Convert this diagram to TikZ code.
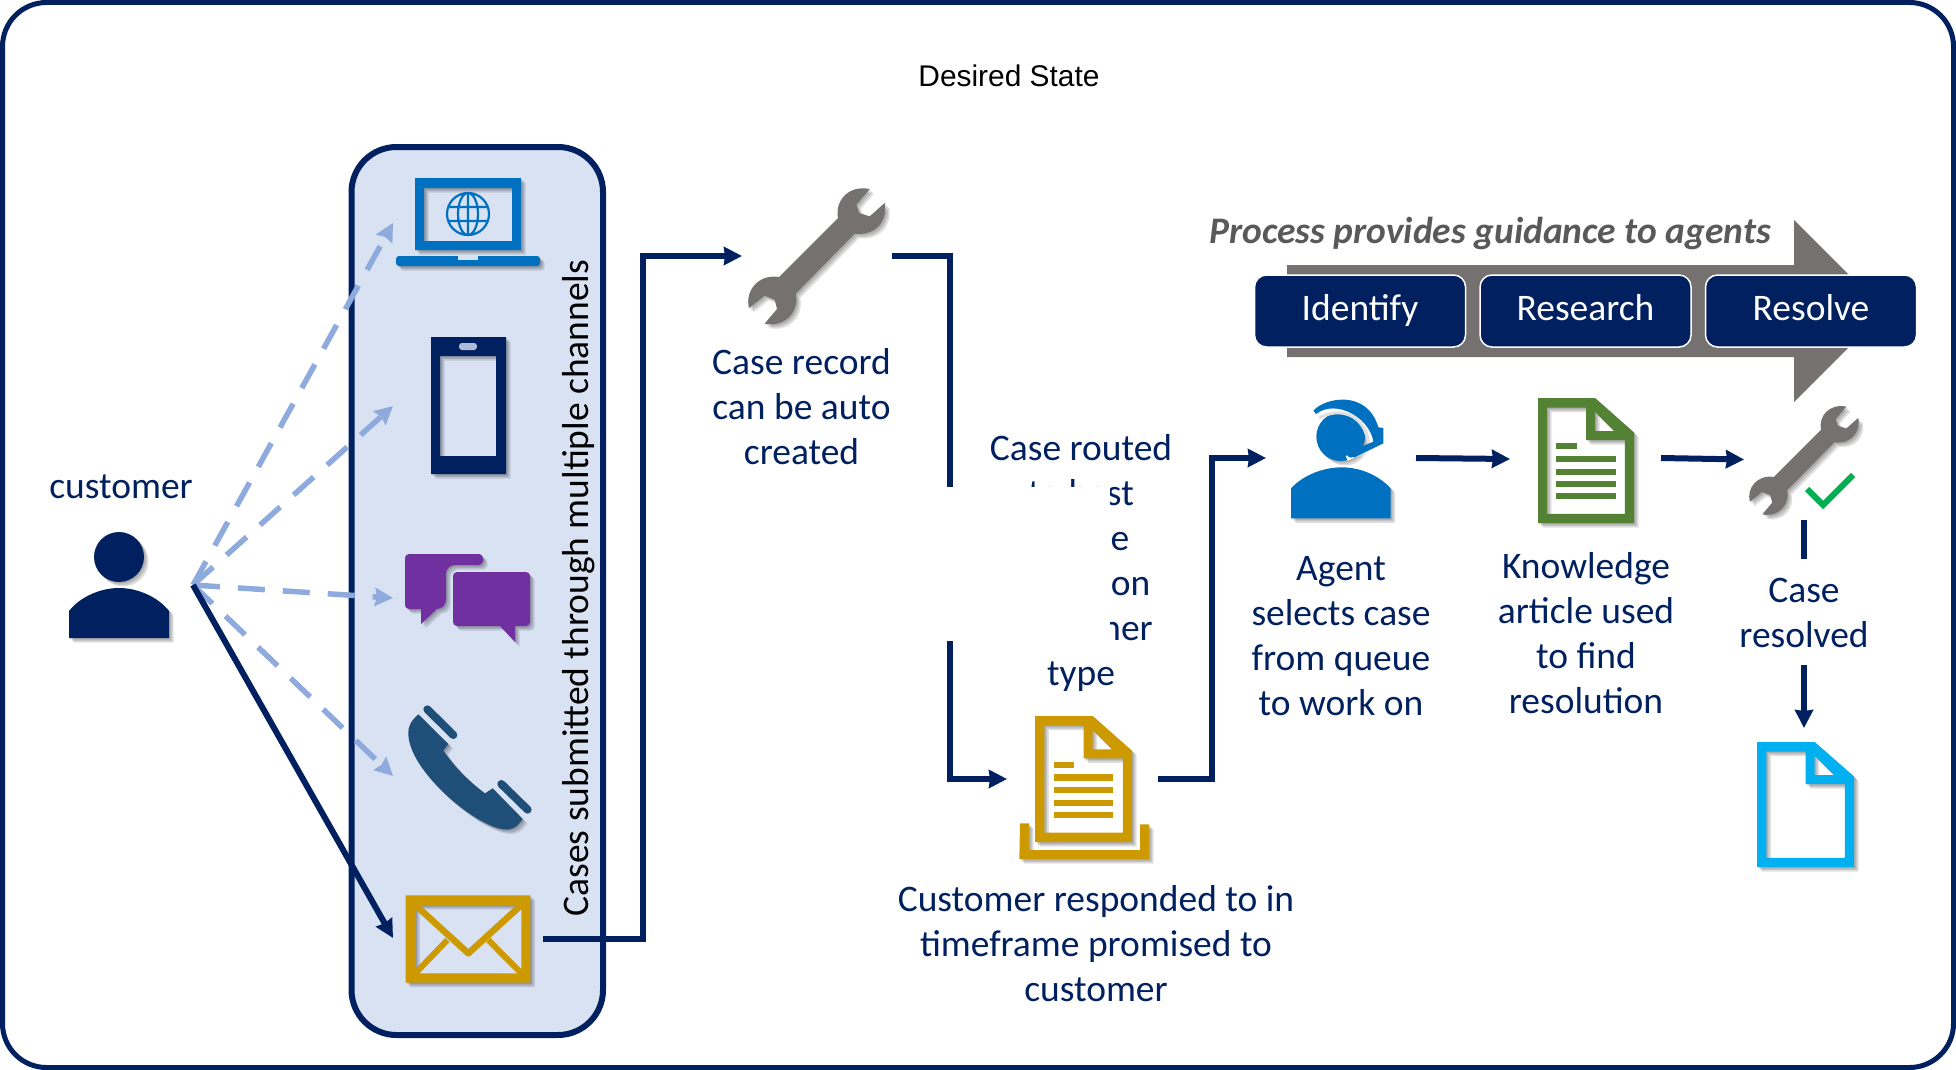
\documentclass[tikz,border=0pt]{standalone}
\usepackage{fontspec}
\setmainfont{Carlito}
\newfontfamily\titlefont{Liberation Sans}
\usetikzlibrary{arrows.meta, shadows}

\definecolor{navy}{HTML}{002060}
\definecolor{panelblue}{HTML}{D9E2F3}
\definecolor{dashblue}{HTML}{8FAADC}
\definecolor{iconblue}{HTML}{0070C0}
\definecolor{iconpurple}{HTML}{7030A0}
\definecolor{phoneblue}{HTML}{1F4E79}
\definecolor{icongold}{HTML}{CC9900}
\definecolor{icongreen}{HTML}{548235}
\definecolor{iconcyan}{HTML}{00B0F0}
\definecolor{icongrey}{HTML}{767171}
\definecolor{checkgreen}{HTML}{00B050}

% document icon, x y width height colour
\newcommand{\docicon}[5]{
  \begin{scope}[shift={(#1,#2)}, x=#3pt, y=-#4pt]
    \fill[#5, softshadow, even odd rule] (0,0) -- (0.595,0) -- (1,0.276) -- (1,1) -- (0,1) -- cycle
      (0.096,0.077) -- (0.096,0.926) -- (0.906,0.926) -- (0.906,0.337) -- (0.502,0.337) -- (0.502,0.077) -- cycle
      (0.595,0.111) -- (0.595,0.265) -- (0.794,0.265) -- cycle;
  \end{scope}
}
\newcommand{\doclines}[5]{
  \begin{scope}[shift={(#1,#2)}, x=#3pt, y=-#4pt]
    \fill[#5] (0.192,0.363) rectangle (0.402,0.411);
    \foreach \ly in {0.464,0.565,0.663,0.761} {
        \fill[#5] (0.192,\ly) rectangle (0.808,\ly+0.048);
      }
  \end{scope}
}
% wrench icon, x y scale
\newcommand{\wrenchicon}[3]{
  \begin{scope}[shift={(#1,#2)}, scale=#3/3, shift={(-85,-52)}]
    \fill[icongrey, softshadow] (450,58) -- (410,105) -- (418,130) -- (450,140) -- (495,100)
      .. controls (505,150) and (470,200) .. (405,192) -- (228,372)
      .. controls (240,420) and (200,475) .. (135,462) -- (172,418) -- (165,390) -- (135,378) -- (88,415)
      .. controls (75,365) and (115,312) .. (178,322) -- (355,145)
      .. controls (345,95) and (385,45) .. (450,58) -- cycle;
  \end{scope}
}

\begin{document}
\begin{tikzpicture}[
    x=1pt, y=-1pt,
    softshadow/.style={
        drop shadow={shadow xshift=1.5pt, shadow yshift=-1.5pt, opacity=.12, fill=black},
        drop shadow={shadow xshift=3pt, shadow yshift=-3pt, opacity=.12, fill=black},
        drop shadow={shadow xshift=4.5pt, shadow yshift=-4.5pt, opacity=.12, fill=black}},
    labeltext/.style={font=\fontsize{37.5}{45}\selectfont, text=navy, align=center},
    stagebox/.style={rectangle, draw=white, line width=1.5pt, fill=navy, rounded corners=12pt, minimum width=211pt, minimum height=72pt, text height=27pt, text depth=9pt, text=white, font=\fontsize{37.5}{45}\selectfont},
    arrow/.style={-{Stealth[length=18pt, width=18pt, inset=1pt]}, line width=6pt, navy},
    plainline/.style={line width=6pt, navy},
    dasharrow/.style={-{Stealth[length=18pt, width=18pt, inset=2pt]}, line width=5.5pt, dashblue, dash pattern=on 27pt off 18pt}
  ]
  \useasboundingbox (0,0) rectangle (1956,1070);

  % Outer frame
  \draw[navy, line width=5pt, rounded corners=44pt] (2.5,2.5) rectangle (1953.5,1067.5);
  \node[font=\titlefont\fontsize{29.9}{35}\selectfont] (title) at (1009,76) {Desired State};

  % Channel panel
  \draw[navy, fill=panelblue, line width=6pt, rounded corners=45pt] (351.5,147) rectangle (603,1035);

  % Customer
  \node[labeltext] (customer) at (121,487) {customer};
  \fill[navy, softshadow] (119,557) circle (25);
  \fill[navy, softshadow] (69,638) -- (69,611) .. controls (80,597) and (100,588) .. (119,588) .. controls (138,588) and (158,597) .. (169,611) -- (169,638) -- cycle;
  \coordinate (customerout) at (193,585);

  % Laptop
  \fill[iconblue, softshadow] (415,178) rectangle (521,250) (512,188) rectangle (424,241);
  \fill[iconblue, softshadow, rounded corners=3pt] (396,256) -- (540,256) -- (540,266) -- (396,266) -- cycle;
  \fill[panelblue] (458,256) rectangle (478,259.5);
  \draw[iconblue, line width=2.2pt] (468,214) circle (21) (468,193) -- (468,235) (449,207) -- (487,207) (449,221) -- (487,221) (468,214) ellipse (10 and 21);

  % Phone
  \fill[navy, softshadow] (431,337) rectangle (506,474) (496,356) rectangle (440,456);
  \fill[panelblue!80!navy, rounded corners=3pt] (459,343) rectangle (477,350);

  % Chat bubbles
  \fill[iconpurple, softshadow, rounded corners=4pt] (405,554) -- (483,554) -- (483,565) -- (457,565) [rounded corners=9pt] -- (446,565) -- (446,609) [sharp corners] -- (437,609) -- (421,624) -- (421,609) [rounded corners=4pt] -- (405,609) -- cycle;
  \fill[iconpurple, softshadow, rounded corners=4pt] (453,572) -- (530,572) -- (530,626) [sharp corners] -- (515,626) -- (515,642) -- (500,626) [rounded corners=4pt] -- (453,626) -- cycle;

  % Handset
  \begin{scope}[shift={(340,620)}, scale=1/3]
    \fill[phoneblue, softshadow] (235,283) -- (325,372) -- (310,392) .. controls (350,450) and (395,490) .. (435,520) -- (458,505) -- (548,597) .. controls (530,625) and (510,632) .. (490,628) .. controls (400,615) and (205,450) .. (205,340) .. controls (203,320) and (215,300) .. (235,283) -- cycle;
    \draw[phoneblue, line width=8pt, line cap=round] (262,268) -- (340,345);
    \draw[phoneblue, line width=8pt, line cap=round] (484,492) -- (563,569);

    % Envelope
    \fill[icongold, softshadow] (197,826) rectangle (571,1088) (544,855) rectangle (226,1060);
    \draw[icongold, line width=6.5pt, line join=round] (226,855) -- (385,1000) -- (544,855);
    \draw[icongold, line width=6pt] (226,1060) -- (322,960) (544,1060) -- (445,960);
  \end{scope}

  \node[rotate=90, font=\fontsize{37.5}{45}\selectfont] (channels) at (578.5,588) {Cases submitted through multiple channels};

  % Channel arrows
  \coordinate (laptopin) at (393,223);
  \coordinate (phonein) at (393,406);
  \coordinate (chatin) at (393,598);
  \coordinate (handsetin) at (393,776);
  \coordinate (mailin) at (393,938);
  \foreach \c in {laptopin,phonein,chatin,handsetin} {
      \draw[dasharrow] (customerout) -- (\c);
    }
  \draw[arrow] (customerout) -- (mailin);

  % Case record
  \wrenchicon{748}{187}{1}
  \node[labeltext] (caserecord) at (801.5,406.5) {Case record\\can be auto\\created};
  \coordinate (mailout) at (543,939);
  \coordinate (mailbend) at (643,256);
  \coordinate (wrenchin) at (742,256);
  \draw[arrow] (mailout) -| (mailbend) -- (wrenchin);

  % Routing
  \node[labeltext] (caserouted) at (1081,563) {Case routed\\to best\\\phantom{queu}e\\\phantom{based~}on\\customer\\type};
  \coordinate (wrenchout) at (892,256);
  \coordinate (routebend) at (950,779);
  \coordinate (promisedin) at (1007,779);
  \draw[arrow] (wrenchout) -| (routebend) -- (promisedin);
  \fill[white] (930,487) rectangle (1110,641);

  % Customer responded
  \docicon{1035}{716}{97}{126}{icongold}
  \doclines{1035}{716}{97}{126}{icongold}
  \begin{scope}[shift={(980,690)}, scale=1/3]
    \fill[icongold, softshadow] (120,400) -- (147,400) -- (147,480) -- (480,480) -- (480,403) -- (507,403) -- (507,507) -- (118,507) -- cycle;
  \end{scope}
  \node[labeltext] (responded) at (1096,944) {Customer responded to in\\timeframe promised to\\customer};

  % Agent
  \coordinate (promisedout) at (1158,779);
  \coordinate (agentbend) at (1212,458);
  \coordinate (agentin) at (1266,458);
  \draw[arrow] (promisedout) -| (agentbend) -- (agentin);
  \begin{scope}[shift={(1280,390)}, scale=1/3]
    \fill[iconblue, softshadow] (182,140) circle (73);
    \fill[iconblue, softshadow] (33,385) -- (33,295) .. controls (70,255) and (130,232) .. (185,232) .. controls (240,232) and (295,255) .. (332,295) -- (332,385) -- cycle;
    \draw[white, line width=5pt] (200,205) -- (280,170);
    \draw[black!12, line width=3pt] (118,84) .. controls (180,48) and (255,75) .. (265,160);
    \fill[iconblue] (100,62) .. controls (135,22) and (262,-2) .. (295,112) -- (310,114) -- (310,160) -- (222,203) -- (210,185) -- (280,155) .. controls (270,85) and (170,25) .. (108,72) -- cycle;
    \fill[iconblue] (213,190) circle (13);
  \end{scope}
  \node[labeltext] (agent) at (1341,636.5) {Agent\\selects case\\from queue\\to work on};

  % Knowledge article
  \coordinate (agentout) at (1416,458);
  \coordinate (articlein) at (1510,459);
  \draw[arrow] (agentout) -- (articlein);
  \docicon{1538}{398}{96}{125}{icongreen}
  \doclines{1538}{398}{96}{125}{icongreen}
  \node[labeltext] (article) at (1586,633.5) {Knowledge\\article used\\to find\\resolution};

  % Guidance arrow
  \fill[icongrey] (1287,265) -- (1794,265) -- (1794,220) -- (1885,311) -- (1794,402) -- (1794,357) -- (1287,357) -- cycle;
  \node[font=\fontsize{37.5}{45}\selectfont\bfseries\itshape, text=black!65] (guidance) at (1490,233.5) {Process provides guidance to agents};
  \node[stagebox] (identify) at (1360,311) {Identify};
  \node[stagebox] (research) at (1585.5,311) {Research};
  \node[stagebox] (resolve) at (1811,311) {Resolve};

  % Case resolved
  \coordinate (articleout) at (1661,458);
  \coordinate (resolvedin) at (1744,459.5);
  \draw[arrow] (articleout) -- (resolvedin);
  \wrenchicon{1749}{405}{0.8}
  \draw[checkgreen, line width=6pt] (1807,489) -- (1823,505) -- (1853,475);
  \node[labeltext] (caseresolved) at (1804,613) {Case\\resolved};
  \coordinate (resolvedout) at (1804,520);
  \coordinate (resolvedgap) at (1804,559);
  \coordinate (closedstart) at (1804,665);
  \coordinate (closedin) at (1804,728);
  \draw[plainline] (resolvedout) -- (resolvedgap);
  \draw[arrow] (closedstart) -- (closedin);
  \docicon{1757}{742}{97}{125}{iconcyan}
\end{tikzpicture}
\end{document}
